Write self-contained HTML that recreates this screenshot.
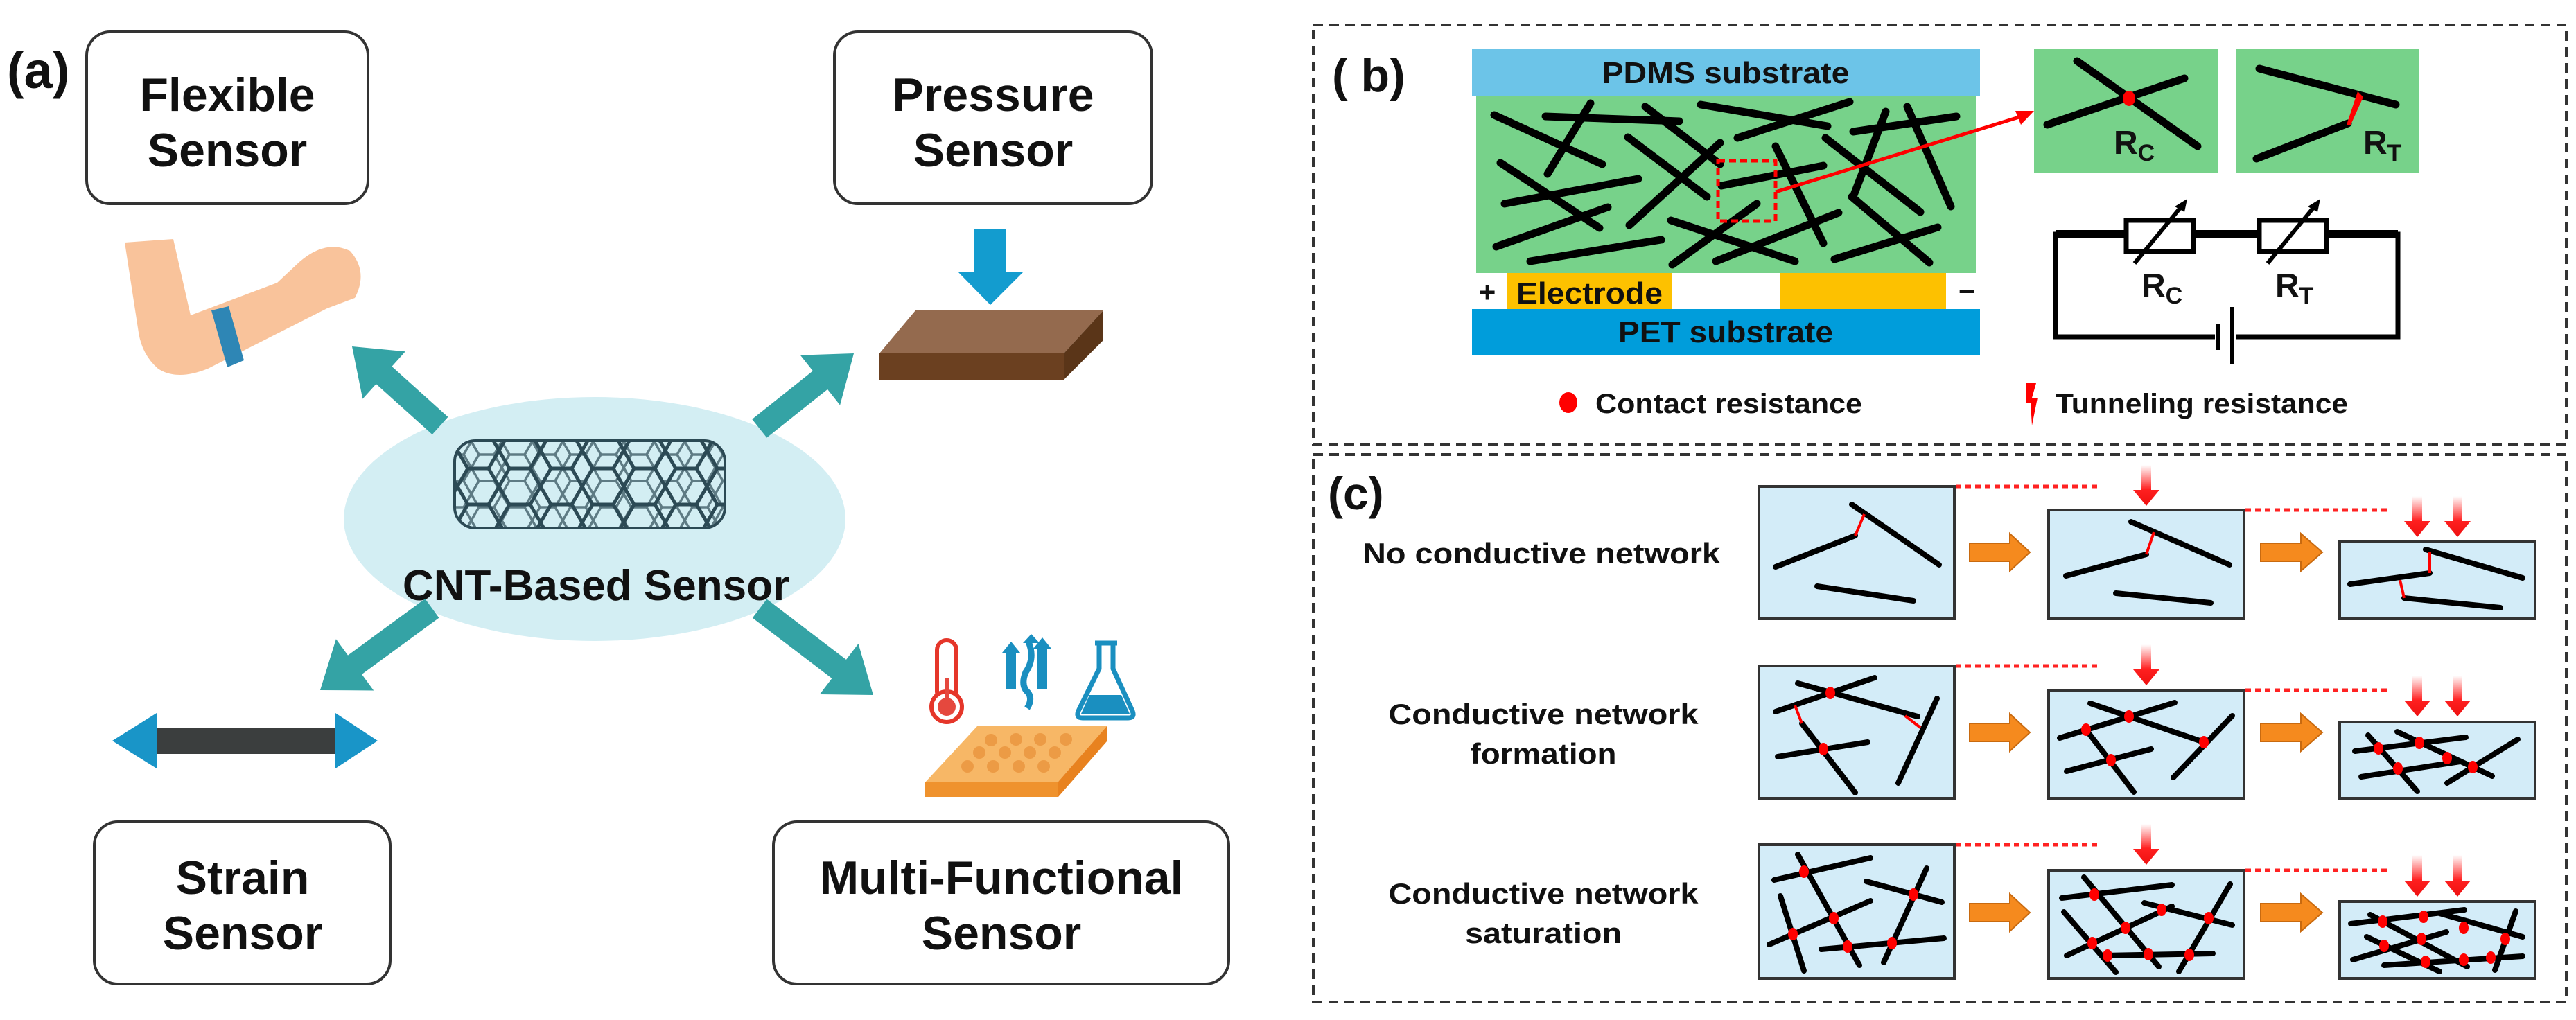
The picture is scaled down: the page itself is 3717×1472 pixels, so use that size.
<!DOCTYPE html>
<html><head><meta charset="utf-8"><style>
html,body{margin:0;padding:0;background:#fff;}
svg{display:block;}
text{font-family:"Liberation Sans",sans-serif;font-weight:bold;fill:#111;}
</style></head><body>
<svg width="3717" height="1472" viewBox="0 0 3717 1472" xmlns="http://www.w3.org/2000/svg">
<defs>
<pattern id="hex" width="60" height="52" patternUnits="userSpaceOnUse">
<path d="M0,26 L15,0 L45,0 L60,26 L45,52 L15,52 Z M60,26 L75,26 M-15,26 L0,26" fill="none" stroke="#2c4a55" stroke-width="5"/>
</pattern>
<pattern id="hex2" width="44" height="38" patternUnits="userSpaceOnUse" patternTransform="translate(20,10)">
<path d="M0,19 L11,0 L33,0 L44,19 L33,38 L11,38 Z" fill="none" stroke="#2c4a55" stroke-width="3.5"/>
</pattern>
<clipPath id="tube"><rect x="656" y="636" width="390" height="126" rx="30"/></clipPath>
<linearGradient id="rg" x1="0" y1="0" x2="0" y2="1"><stop offset="0" stop-color="#ff3030" stop-opacity="0"/><stop offset="0.6" stop-color="#ff2020"/><stop offset="1" stop-color="#ee1010"/></linearGradient>
</defs>

<!-- ===== Panel (a) ===== -->
<text x="10" y="127" font-size="74">(a)</text>
<rect x="125" y="46" width="406" height="248" rx="34" fill="#fff" stroke="#333" stroke-width="4"/>
<text x="328" y="160" font-size="68" text-anchor="middle">Flexible</text>
<text x="328" y="240" font-size="68" text-anchor="middle">Sensor</text>
<rect x="1204" y="46" width="458" height="248" rx="34" fill="#fff" stroke="#333" stroke-width="4"/>
<text x="1433" y="160" font-size="68" text-anchor="middle">Pressure</text>
<text x="1433" y="240" font-size="68" text-anchor="middle">Sensor</text>
<rect x="136" y="1186" width="427" height="234" rx="34" fill="#fff" stroke="#333" stroke-width="4"/>
<text x="350" y="1290" font-size="68" text-anchor="middle">Strain</text>
<text x="350" y="1370" font-size="68" text-anchor="middle">Sensor</text>
<rect x="1116" y="1186" width="657" height="234" rx="34" fill="#fff" stroke="#333" stroke-width="4"/>
<text x="1445" y="1290" font-size="68" text-anchor="middle">Multi-Functional</text>
<text x="1445" y="1370" font-size="68" text-anchor="middle">Sensor</text>

<!-- ellipse -->
<ellipse cx="858" cy="749" rx="362" ry="176" fill="#d3eef3"/>
<g clip-path="url(#tube)">
<rect x="650" y="630" width="400" height="140" fill="url(#hex)"/>
<rect x="650" y="630" width="400" height="140" fill="url(#hex2)" opacity="0.7"/>
</g>
<rect x="656" y="636" width="390" height="126" rx="30" fill="none" stroke="#2c4a55" stroke-width="4"/>
<text x="860" y="866" font-size="62" text-anchor="middle">CNT-Based Sensor</text>

<!-- teal arrows -->
<g fill="#34a3a5">
<polygon points="0,0 -62,-46 -62,-17 -171,-17 -171,17 -62,17 -62,46" transform="translate(508,500) rotate(-138)"/>
<polygon points="0,0 -62,-46 -62,-17 -174,-17 -174,17 -62,17 -62,46" transform="translate(1232,510) rotate(-38.5)"/>
<polygon points="0,0 -62,-46 -62,-17 -200,-17 -200,17 -62,17 -62,46" transform="translate(462,996) rotate(143.8)"/>
<polygon points="0,0 -62,-46 -62,-17 -206,-17 -206,17 -62,17 -62,46" transform="translate(1260,1003) rotate(37.3)"/>
</g>

<!-- arm -->
<path d="M180,350 L250,345 L275,455 L400,408 L432,378 Q470,345 505,362 Q532,392 512,430 L472,445 L300,532 Q255,550 228,532 Q205,512 200,480 Z" fill="#f9c39b"/>
<polygon points="305,448 330,442 352,520 328,530" fill="#2e86b5"/>

<!-- pressure -->
<rect x="1406" y="330" width="46" height="64" fill="#139ccf"/>
<polygon points="1382,392 1477,392 1429,440" fill="#139ccf"/>
<polygon points="1269,510 1321,448 1592,448 1535,510" fill="#946a4e"/>
<rect x="1269" y="510" width="266" height="38" fill="#6b4020"/>
<polygon points="1535,510 1592,448 1592,491 1535,548" fill="#5a3518"/>

<!-- strain -->
<rect x="222" y="1051" width="266" height="37" fill="#3b3e3e"/>
<polygon points="162,1069 226,1029 226,1109" fill="#1995c8"/>
<polygon points="545,1069 484,1029 484,1109" fill="#1995c8"/>

<!-- multi-functional icons -->
<rect x="1352" y="924" width="28" height="88" rx="14" fill="#fff" stroke="#e5362a" stroke-width="6"/>
<circle cx="1366" cy="1020" r="22" fill="#fff" stroke="#e5362a" stroke-width="6"/>
<circle cx="1366" cy="1020" r="13" fill="#e5483e"/>
<rect x="1363" y="978" width="6" height="32" fill="#e5483e"/>
<g fill="#1a8fc0">
<rect x="1452" y="940" width="14" height="54"/><polygon points="1446,942 1459,926 1472,942"/>
<rect x="1497" y="935" width="14" height="60"/><polygon points="1491,936 1504,920 1517,936"/>
<polygon points="1476,928 1488,915 1500,928"/>
</g>
<path d="M1484,926 Q1494,950 1480,970 Q1472,990 1484,1000 Q1490,1010 1482,1022" fill="none" stroke="#1a8fc0" stroke-width="9"/>
<path d="M1580,928 L1612,928 M1586,930 L1586,965 L1556,1026 Q1552,1036 1562,1036 L1628,1036 Q1638,1036 1634,1026 L1606,965 L1606,930" fill="none" stroke="#1a8fc0" stroke-width="7"/>
<polygon points="1572,1003 1618,1003 1630,1030 1560,1030" fill="#1a8fc0"/>
<polygon points="1334,1130 1410,1048 1597,1048 1527,1128" fill="#f7b766"/>
<rect x="1334" y="1128" width="193" height="22" fill="#ef922d"/>
<polygon points="1527,1128 1597,1048 1597,1070 1527,1150" fill="#e8821f"/>
<g fill="#ec9b45">
<circle cx="1430" cy="1068" r="9"/><circle cx="1466" cy="1067" r="9"/><circle cx="1501" cy="1067" r="9"/><circle cx="1538" cy="1067" r="9"/>
<circle cx="1413" cy="1086" r="9"/><circle cx="1450" cy="1086" r="9"/><circle cx="1486" cy="1086" r="9"/><circle cx="1522" cy="1086" r="9"/>
<circle cx="1396" cy="1106" r="9"/><circle cx="1433" cy="1106" r="9"/><circle cx="1470" cy="1106" r="9"/><circle cx="1506" cy="1106" r="9"/>
</g>

<!-- ===== Panel (b) ===== -->
<rect x="1895" y="36" width="1808" height="606" fill="none" stroke="#333" stroke-width="4" stroke-dasharray="14 9"/>
<text x="1922" y="132" font-size="68">( b)</text>
<rect x="2124" y="71" width="733" height="67" fill="#6cc4e8"/>
<text x="2490" y="120" font-size="44" text-anchor="middle" textLength="357" lengthAdjust="spacingAndGlyphs">PDMS substrate</text>
<rect x="2130" y="138" width="721" height="256" fill="#77d28a"/>
<g stroke="#000" stroke-width="11" stroke-linecap="round">
<line x1="2156" y1="166" x2="2312" y2="237"/><line x1="2230" y1="168" x2="2423" y2="175"/>
<line x1="2295" y1="149" x2="2233" y2="251"/><line x1="2374" y1="154" x2="2482" y2="237"/>
<line x1="2454" y1="151" x2="2637" y2="182"/><line x1="2507" y1="199" x2="2669" y2="147"/>
<line x1="2674" y1="190" x2="2823" y2="168"/><line x1="2721" y1="161" x2="2674" y2="284"/>
<line x1="2752" y1="154" x2="2815" y2="298"/><line x1="2165" y1="235" x2="2308" y2="329"/>
<line x1="2171" y1="294" x2="2364" y2="258"/><line x1="2349" y1="198" x2="2463" y2="284"/>
<line x1="2351" y1="325" x2="2482" y2="206"/><line x1="2159" y1="356" x2="2320" y2="299"/>
<line x1="2208" y1="377" x2="2397" y2="346"/><line x1="2411" y1="318" x2="2590" y2="377"/>
<line x1="2413" y1="382" x2="2535" y2="294"/><line x1="2476" y1="377" x2="2653" y2="307"/>
<line x1="2562" y1="211" x2="2631" y2="351"/><line x1="2484" y1="268" x2="2631" y2="239"/>
<line x1="2634" y1="199" x2="2771" y2="306"/><line x1="2672" y1="284" x2="2784" y2="379"/>
<line x1="2647" y1="374" x2="2796" y2="328"/>
</g>
<rect x="2479" y="232" width="83" height="87" fill="none" stroke="#f00" stroke-width="5" stroke-dasharray="10 6"/>
<line x1="2562" y1="277" x2="2920" y2="167" stroke="#f00" stroke-width="5"/>
<polygon points="2935,160 2908,160 2916,180" fill="#f00"/>
<rect x="2174" y="394" width="239" height="52" fill="#fdc100"/>
<rect x="2569" y="394" width="239" height="52" fill="#fdc100"/>
<text x="2146" y="436" font-size="42" text-anchor="middle" font-weight="normal">+</text>
<text x="2838" y="432" font-size="42" text-anchor="middle" font-weight="normal">–</text>
<text x="2188" y="438" font-size="44" textLength="211" lengthAdjust="spacingAndGlyphs">Electrode</text>
<rect x="2124" y="446" width="733" height="67" fill="#009ddb"/>
<text x="2490" y="494" font-size="44" text-anchor="middle" textLength="310" lengthAdjust="spacingAndGlyphs">PET substrate</text>

<rect x="2935" y="70" width="265" height="180" fill="#77d28a"/>
<rect x="3227" y="70" width="264" height="180" fill="#77d28a"/>
<g stroke="#000" stroke-width="11" stroke-linecap="round">
<line x1="2997" y1="88" x2="3171" y2="211"/><line x1="2954" y1="180" x2="3152" y2="113"/>
<line x1="3260" y1="99" x2="3457" y2="151"/><line x1="3256" y1="229" x2="3388" y2="178"/>
</g>
<ellipse cx="3072" cy="142" rx="9" ry="11" fill="#f00"/>
<polygon points="3386,180 3402,132 3410,140 3392,180" fill="#f00"/>
<text x="3050" y="222" font-size="48">R<tspan font-size="34" dy="10">C</tspan></text>
<text x="3410" y="222" font-size="48">R<tspan font-size="34" dy="10">T</tspan></text>

<!-- circuit -->
<g stroke="#000" fill="none">
<rect x="2966" y="338" width="494" height="148" stroke-width="7"/>
<line x1="2966" y1="338" x2="3460" y2="338" stroke-width="12"/>
</g>
<rect x="3068" y="318" width="97" height="45" fill="#fff" stroke="#000" stroke-width="7"/>
<rect x="3260" y="318" width="97" height="45" fill="#fff" stroke="#000" stroke-width="7"/>
<rect x="3196" y="470" width="30" height="30" fill="#fff"/>
<line x1="3200" y1="468" x2="3200" y2="505" stroke="#000" stroke-width="6"/>
<line x1="3221" y1="443" x2="3221" y2="526" stroke="#000" stroke-width="6"/>
<g stroke="#000" stroke-width="6">
<line x1="3080" y1="380" x2="3150" y2="295"/><line x1="3272" y1="380" x2="3342" y2="295"/>
</g>
<polygon points="3156,287 3138,298 3152,306" fill="#000"/>
<polygon points="3348,287 3330,298 3344,306" fill="#000"/>
<text x="3090" y="428" font-size="48">R<tspan font-size="34" dy="10">C</tspan></text>
<text x="3283" y="428" font-size="48">R<tspan font-size="34" dy="10">T</tspan></text>

<ellipse cx="2263" cy="581" rx="13" ry="15" fill="#f00"/>
<text x="2302" y="596" font-size="40" textLength="385" lengthAdjust="spacingAndGlyphs">Contact resistance</text>
<polygon points="2924,553 2938,553 2932,574 2940,574 2932,614 2930,582 2924,582" fill="#f00"/>
<text x="2966" y="596" font-size="40" textLength="422" lengthAdjust="spacingAndGlyphs">Tunneling resistance</text>

<!-- ===== Panel (c) ===== -->
<rect x="1895" y="656" width="1808" height="790" fill="none" stroke="#333" stroke-width="4" stroke-dasharray="14 9"/>
<text x="1916" y="735" font-size="66">(c)</text>
<text x="1966" y="813" font-size="42" textLength="516" lengthAdjust="spacingAndGlyphs">No conductive network</text>
<text x="2227" y="1045" font-size="42" text-anchor="middle" textLength="447" lengthAdjust="spacingAndGlyphs">Conductive network</text>
<text x="2227" y="1102" font-size="42" text-anchor="middle" textLength="211" lengthAdjust="spacingAndGlyphs">formation</text>
<text x="2227" y="1304" font-size="42" text-anchor="middle" textLength="447" lengthAdjust="spacingAndGlyphs">Conductive network</text>
<text x="2227" y="1361" font-size="42" text-anchor="middle" textLength="226" lengthAdjust="spacingAndGlyphs">saturation</text>

<g fill="#d3ecf8" stroke="#333" stroke-width="4">
<rect x="2538" y="702" width="282" height="191"/><rect x="2956" y="736" width="282" height="157"/><rect x="3376" y="782" width="282" height="111"/>
<rect x="2538" y="961" width="282" height="191"/><rect x="2956" y="996" width="282" height="156"/><rect x="3376" y="1042" width="282" height="110"/>
<rect x="2538" y="1219" width="282" height="193"/><rect x="2956" y="1256" width="282" height="156"/><rect x="3376" y="1301" width="282" height="111"/>
</g>
<g stroke="#f22" stroke-width="5" stroke-dasharray="8 6">
<line x1="2822" y1="702" x2="3026" y2="702"/><line x1="3240" y1="736" x2="3444" y2="736"/>
<line x1="2822" y1="961" x2="3026" y2="961"/><line x1="3240" y1="996" x2="3444" y2="996"/>
<line x1="2822" y1="1219" x2="3026" y2="1219"/><line x1="3240" y1="1256" x2="3444" y2="1256"/>
</g>
<!-- orange arrows -->
<g fill="#f58a1e" stroke="#c86a10" stroke-width="2">
<polygon points="2842,784 2900,784 2900,770 2929,797 2900,824 2900,810 2842,810"/>
<polygon points="3262,784 3320,784 3320,770 3351,797 3320,824 3320,810 3262,810"/>
<polygon points="2842,1044 2900,1044 2900,1030 2929,1057 2900,1084 2900,1070 2842,1070"/>
<polygon points="3262,1044 3320,1044 3320,1030 3351,1057 3320,1084 3320,1070 3262,1070"/>
<polygon points="2842,1304 2900,1304 2900,1290 2929,1317 2900,1344 2900,1330 2842,1330"/>
<polygon points="3262,1304 3320,1304 3320,1290 3351,1317 3320,1344 3320,1330 3262,1330"/>
</g>
<!-- red press arrows -->
<g fill="url(#rg)">
<path d="M3090,671 h14 v36 h12 l-19,23 l-19,-23 h12z"/>
<path d="M3090,930 h14 v36 h12 l-19,23 l-19,-23 h12z"/>
<path d="M3090,1189 h14 v36 h12 l-19,23 l-19,-23 h12z"/>
<path d="M3481,716 h14 v36 h12 l-19,23 l-19,-23 h12z"/><path d="M3539,716 h14 v36 h12 l-19,23 l-19,-23 h12z"/>
<path d="M3481,975 h14 v36 h12 l-19,23 l-19,-23 h12z"/><path d="M3539,975 h14 v36 h12 l-19,23 l-19,-23 h12z"/>
<path d="M3481,1234 h14 v37 h12 l-19,23 l-19,-23 h12z"/><path d="M3539,1234 h14 v37 h12 l-19,23 l-19,-23 h12z"/>
</g>

<!-- sticks -->
<g stroke="#000" stroke-width="8" stroke-linecap="round">
<line x1="2562" y1="818" x2="2677" y2="773"/><line x1="2672" y1="728" x2="2798" y2="815"/><line x1="2622" y1="846" x2="2761" y2="867"/>
<line x1="2981" y1="831" x2="3097" y2="800"/><line x1="3075" y1="753" x2="3217" y2="815"/><line x1="3053" y1="856" x2="3190" y2="870"/>
<line x1="3391" y1="843" x2="3506" y2="827"/><line x1="3500" y1="793" x2="3640" y2="834"/><line x1="3469" y1="863" x2="3608" y2="877"/>

<line x1="2594" y1="986" x2="2767" y2="1034"/><line x1="2562" y1="1027" x2="2705" y2="978"/><line x1="2600" y1="1044" x2="2677" y2="1144"/>
<line x1="2565" y1="1092" x2="2695" y2="1071"/><line x1="2739" y1="1130" x2="2795" y2="1008"/>
<line x1="3016" y1="1015" x2="3177" y2="1070"/><line x1="2972" y1="1065" x2="3138" y2="1014"/><line x1="3010" y1="1053" x2="3079" y2="1143"/>
<line x1="2982" y1="1113" x2="3104" y2="1081"/><line x1="3136" y1="1122" x2="3221" y2="1033"/>
<line x1="3398" y1="1084" x2="3558" y2="1064"/><line x1="3459" y1="1056" x2="3596" y2="1120"/><line x1="3417" y1="1061" x2="3488" y2="1142"/>
<line x1="3407" y1="1121" x2="3550" y2="1099"/><line x1="3531" y1="1130" x2="3633" y2="1067"/>

<line x1="2560" y1="1270" x2="2699" y2="1238"/><line x1="2594" y1="1233" x2="2683" y2="1393"/><line x1="2693" y1="1272" x2="2802" y2="1302"/>
<line x1="2553" y1="1363" x2="2699" y2="1300"/><line x1="2569" y1="1293" x2="2603" y2="1401"/><line x1="2718" y1="1389" x2="2780" y2="1253"/>
<line x1="2628" y1="1370" x2="2805" y2="1354"/>
<line x1="2975" y1="1296" x2="3134" y2="1277"/><line x1="3007" y1="1266" x2="3115" y2="1395"/><line x1="3094" y1="1303" x2="3221" y2="1335"/>
<line x1="2978" y1="1316" x2="3053" y2="1403"/><line x1="2982" y1="1379" x2="3134" y2="1308"/><line x1="3144" y1="1402" x2="3218" y2="1276"/>
<line x1="3034" y1="1379" x2="3193" y2="1376"/>
<line x1="3392" y1="1333" x2="3556" y2="1313"/><line x1="3420" y1="1320" x2="3560" y2="1395"/><line x1="3395" y1="1385" x2="3530" y2="1345"/>
<line x1="3440" y1="1393" x2="3640" y2="1380"/><line x1="3520" y1="1318" x2="3640" y2="1352"/><line x1="3630" y1="1315" x2="3600" y2="1400"/>
<line x1="3415" y1="1352" x2="3520" y2="1402"/>
</g>
<g stroke="#f00" stroke-width="4">
<line x1="2677" y1="773" x2="2690" y2="742"/>
<line x1="3097" y1="800" x2="3108" y2="768"/>
<line x1="3506" y1="827" x2="3506" y2="797"/><line x1="3463" y1="837" x2="3469" y2="863"/>
<line x1="2590" y1="1018" x2="2600" y2="1044"/><line x1="2749" y1="1033" x2="2771" y2="1050"/>
</g>
<g fill="#f00">
<ellipse cx="2641" cy="1000" rx="7" ry="9"/><ellipse cx="2631" cy="1081" rx="7" ry="9"/>
<ellipse cx="3072" cy="1034" rx="7" ry="9"/><ellipse cx="3010" cy="1053" rx="7" ry="9"/><ellipse cx="3046" cy="1097" rx="7" ry="9"/><ellipse cx="3180" cy="1071" rx="7" ry="9"/>
<ellipse cx="3432" cy="1080" rx="7" ry="9"/><ellipse cx="3491" cy="1072" rx="7" ry="9"/><ellipse cx="3531" cy="1094" rx="7" ry="9"/><ellipse cx="3460" cy="1109" rx="7" ry="9"/><ellipse cx="3568" cy="1107" rx="7" ry="9"/>
<ellipse cx="2603" cy="1258" rx="7" ry="9"/><ellipse cx="2646" cy="1325" rx="7" ry="9"/><ellipse cx="2587" cy="1348" rx="7" ry="9"/><ellipse cx="2666" cy="1366" rx="7" ry="9"/><ellipse cx="2730" cy="1361" rx="7" ry="9"/><ellipse cx="2761" cy="1291" rx="7" ry="9"/>
<ellipse cx="3022" cy="1291" rx="7" ry="9"/><ellipse cx="3067" cy="1339" rx="7" ry="9"/><ellipse cx="3119" cy="1313" rx="7" ry="9"/><ellipse cx="3187" cy="1325" rx="7" ry="9"/><ellipse cx="3019" cy="1361" rx="7" ry="9"/><ellipse cx="3041" cy="1379" rx="7" ry="9"/><ellipse cx="3100" cy="1377" rx="7" ry="9"/><ellipse cx="3159" cy="1378" rx="7" ry="9"/>
<ellipse cx="3438" cy="1330" rx="7" ry="9"/><ellipse cx="3497" cy="1323" rx="7" ry="9"/><ellipse cx="3555" cy="1339" rx="7" ry="9"/><ellipse cx="3494" cy="1355" rx="7" ry="9"/><ellipse cx="3440" cy="1365" rx="7" ry="9"/><ellipse cx="3615" cy="1355" rx="7" ry="9"/><ellipse cx="3500" cy="1388" rx="7" ry="9"/><ellipse cx="3555" cy="1385" rx="7" ry="9"/><ellipse cx="3594" cy="1382" rx="7" ry="9"/>
</g>
</svg>
</body></html>
